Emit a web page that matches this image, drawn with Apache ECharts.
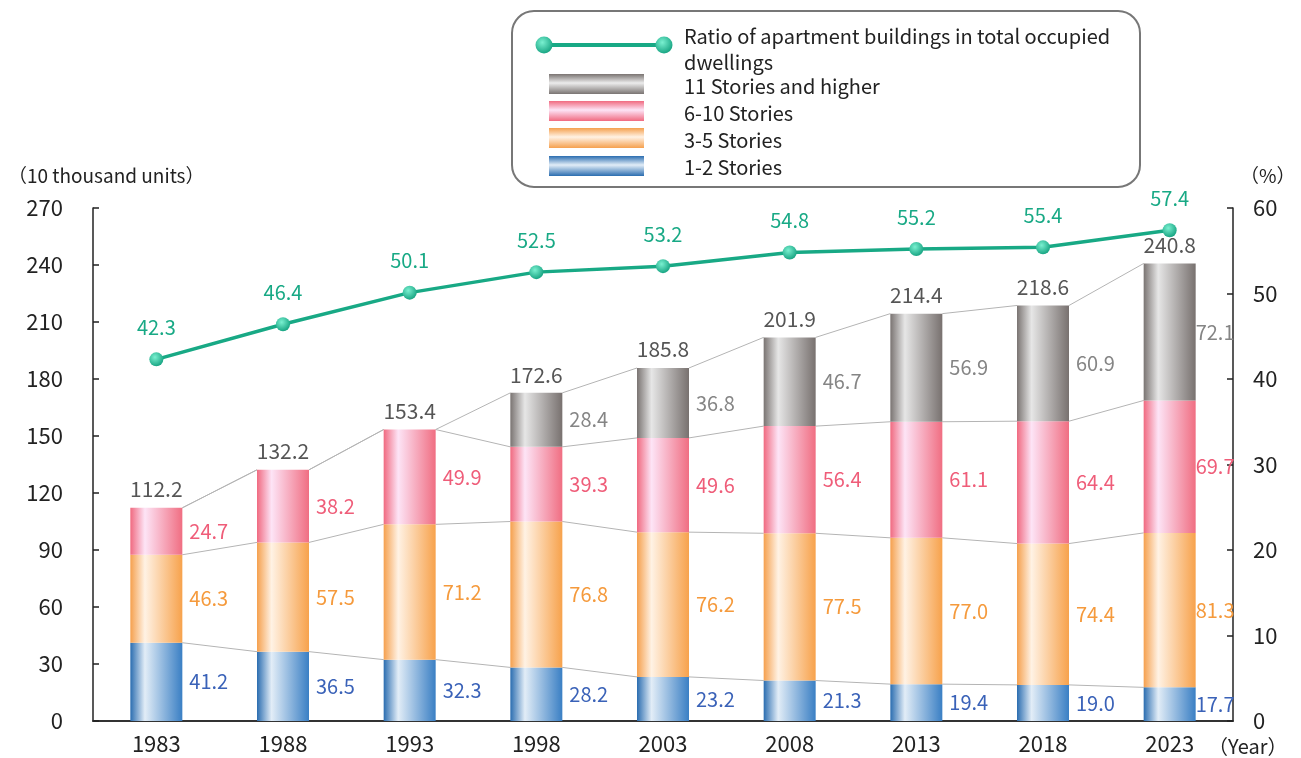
<!DOCTYPE html>
<html>
<head>
<meta charset="utf-8">
<script src="https://cdn.jsdelivr.net/npm/echarts@6/dist/echarts.min.js"></script>
<style>
html,body{margin:0;padding:0;background:#fff;}
#chart{width:1301px;height:758px;}
</style>
</head>
<body>
<div id="chart"></div>
<script>
const years = ['1983','1988','1993','1998','2003','2008','2013','2018','2023'];
const stories1to2 = [41.2, 36.5, 32.3, 28.2, 23.2, 21.3, 19.4, 19.0, 17.7];
const stories3to5 = [46.3, 57.5, 71.2, 76.8, 76.2, 77.5, 77.0, 74.4, 81.3];
const stories6to10 = [24.7, 38.2, 49.9, 39.3, 49.6, 56.4, 61.1, 64.4, 69.7];
const stories11plus = [null, null, null, 28.4, 36.8, 46.7, 56.9, 60.9, 72.1];
const totals = [112.2, 132.2, 153.4, 172.6, 185.8, 201.9, 214.4, 218.6, 240.8];
const ratio = [42.3, 46.4, 50.1, 52.5, 53.2, 54.8, 55.2, 55.4, 57.4];
const leftTicks = {min: 0, max: 270, interval: 30};
const rightTicks = {min: 0, max: 60, interval: 10};

const FONT = '"Noto Sans CJK JP", "Noto Sans", sans-serif';
const BAR_W = 52;
const LAST = years.length - 1;

function hGrad(edgeL, light, edgeR) {
  return new echarts.graphic.LinearGradient(0, 0, 1, 0, [
    {offset: 0, color: edgeL},
    {offset: 0.28, color: light},
    {offset: 1, color: edgeR}
  ]);
}
function vGrad(edge, light) {
  return new echarts.graphic.LinearGradient(0, 0, 0, 1, [
    {offset: 0, color: edge},
    {offset: 0.45, color: light},
    {offset: 1, color: edge}
  ]);
}
const blueG = hGrad('#2b6db0', '#e2edf7', '#3a7fc4');
const orangeG = hGrad('#f5a04e', '#fff2e4', '#f7a24c');
const pinkG = hGrad('#f06a80', '#fde4f6', '#f06e82');
const grayG = hGrad('#7a7472', '#e6e6e6', '#78716f');
const dotG = new echarts.graphic.RadialGradient(0.4, 0.35, 0.7, [
  {offset: 0, color: '#7af0d0'},
  {offset: 1, color: '#12a07e'}
]);

function segLabel(color) {
  return {
    show: true,
    position: 'right',
    distance: 7,
    color: color,
    fontFamily: FONT,
    fontSize: 20,
    formatter: p => p.value == null ? '' : p.value.toFixed(1)
  };
}
function segData(arr) {
  return arr.map((v, i) => i === LAST ? {value: v, label: {distance: 0}} : v);
}

const levels = [stories1to2, stories3to5, stories6to10, stories11plus];
function cum(i, k) {
  let s = 0;
  for (let j = 0; j <= k; j++) s += (levels[j][i] || 0);
  return s;
}

const chart = echarts.init(document.getElementById('chart'));
chart.setOption({
  animation: false,
  textStyle: {fontFamily: FONT},
  grid: {left: 93, right: 68, top: 208, bottom: 37},
  xAxis: {
    type: 'category',
    data: years,
    axisLine: {lineStyle: {color: '#333', width: 2}},
    axisTick: {show: false},
    axisLabel: {color: '#222', fontSize: 22, margin: 12, fontFamily: FONT}
  },
  yAxis: [
    {
      type: 'value', min: leftTicks.min, max: leftTicks.max, interval: leftTicks.interval,
      axisLine: {show: true, lineStyle: {color: '#222', width: 1.5}},
      axisTick: {show: true, inside: true, length: 6, lineStyle: {color: '#222', width: 1.5}},
      axisLabel: {color: '#222', fontSize: 22, margin: 30, fontFamily: FONT},
      splitLine: {show: false}
    },
    {
      type: 'value', min: rightTicks.min, max: rightTicks.max, interval: rightTicks.interval,
      position: 'right',
      axisLine: {show: true, lineStyle: {color: '#222', width: 1.5}},
      axisTick: {show: true, inside: true, length: 6, lineStyle: {color: '#222', width: 1.5}},
      axisLabel: {color: '#222', fontSize: 22, margin: 20, fontFamily: FONT},
      splitLine: {show: false}
    }
  ],
  series: [
    {
      type: 'custom',
      name: 'connectors',
      silent: true,
      z: 1,
      data: years.slice(0, LAST).map((y, i) => [i, 0]),
      encode: {x: 0, y: 1},
      renderItem: function (params, api) {
        const i = api.value(0);
        const children = [];
        for (let k = 0; k < 4; k++) {
          const a = api.coord([i, cum(i, k)]);
          const b = api.coord([i + 1, cum(i + 1, k)]);
          children.push({
            type: 'line',
            shape: {x1: a[0] + BAR_W / 2, y1: a[1], x2: b[0] - BAR_W / 2, y2: b[1]},
            style: {stroke: '#b4b4b4', lineWidth: 1}
          });
        }
        return {type: 'group', children: children};
      }
    },
    {
      name: '1-2 Stories', type: 'bar', stack: 'a', barWidth: BAR_W, z: 2,
      itemStyle: {color: blueG},
      label: segLabel('#3a62b8'),
      data: segData(stories1to2)
    },
    {
      name: '3-5 Stories', type: 'bar', stack: 'a', barWidth: BAR_W, z: 2,
      itemStyle: {color: orangeG},
      label: segLabel('#f59a3c'),
      data: segData(stories3to5)
    },
    {
      name: '6-10 Stories', type: 'bar', stack: 'a', barWidth: BAR_W, z: 2,
      itemStyle: {color: pinkG},
      label: segLabel('#ef5d79'),
      data: segData(stories6to10)
    },
    {
      name: '11 Stories and higher', type: 'bar', stack: 'a', barWidth: BAR_W, z: 2,
      itemStyle: {color: grayG},
      label: segLabel('#858585'),
      data: segData(stories11plus)
    },
    {
      name: 'totals', type: 'scatter', symbolSize: 0, silent: true, z: 3,
      data: totals,
      label: {
        show: true, position: 'top', distance: 8, color: '#2a2a2a', fontSize: 21, fontFamily: FONT,
        formatter: p => p.value.toFixed(1)
      }
    },
    {
      name: 'Ratio of apartment buildings in total occupied dwellings',
      type: 'line', yAxisIndex: 1, z: 5,
      data: ratio,
      symbol: 'circle', symbolSize: 14,
      lineStyle: {color: '#18a985', width: 3.5},
      itemStyle: {color: dotG},
      label: {
        show: true, position: 'top', distance: 15, color: '#18a985', fontSize: 20, fontFamily: FONT,
        formatter: p => p.value.toFixed(1)
      }
    }
  ],
  graphic: [
    {type: 'text', left: 8, top: 166, style: {text: '（10 thousand units）', fill: '#222', font: '19px ' + FONT}},
    {type: 'text', left: 1240, top: 166, style: {text: '（%）', fill: '#222', font: '19px ' + FONT}},
    {type: 'text', left: 1208, top: 736, style: {text: '（Year）', fill: '#222', font: '20px ' + FONT}},
    {
      type: 'group', left: 511, top: 10,
      children: [
        {type: 'rect', shape: {x: 0, y: 0, width: 628, height: 176, r: 22}, style: {fill: '#fff', stroke: '#777', lineWidth: 2}},
        {type: 'line', shape: {x1: 32, y1: 34, x2: 152, y2: 34}, style: {stroke: '#18a985', lineWidth: 4}},
        {type: 'circle', shape: {cx: 32, cy: 34, r: 8.5}, style: {fill: dotG}},
        {type: 'circle', shape: {cx: 152, cy: 34, r: 8.5}, style: {fill: dotG}},
        {type: 'text', x: 172, y: 12, style: {text: 'Ratio of apartment buildings in total occupied\ndwellings', fill: '#222', font: '20px ' + FONT, lineHeight: 26}},
        {type: 'rect', shape: {x: 37, y: 63, width: 95, height: 20}, style: {fill: vGrad('#7a7472', '#ececec')}},
        {type: 'text', x: 172, y: 65, style: {text: '11 Stories and higher', fill: '#222', font: '20px ' + FONT}},
        {type: 'rect', shape: {x: 37, y: 90, width: 95, height: 20}, style: {fill: vGrad('#f06a80', '#fde4f6')}},
        {type: 'text', x: 172, y: 92, style: {text: '6-10 Stories', fill: '#222', font: '20px ' + FONT}},
        {type: 'rect', shape: {x: 37, y: 117, width: 95, height: 20}, style: {fill: vGrad('#f5a04e', '#fff2e4')}},
        {type: 'text', x: 172, y: 119, style: {text: '3-5 Stories', fill: '#222', font: '20px ' + FONT}},
        {type: 'rect', shape: {x: 37, y: 145, width: 95, height: 20}, style: {fill: vGrad('#2b6db0', '#e2edf7')}},
        {type: 'text', x: 172, y: 146, style: {text: '1-2 Stories', fill: '#222', font: '20px ' + FONT}}
      ]
    }
  ]
});
</script>
</body>
</html>
